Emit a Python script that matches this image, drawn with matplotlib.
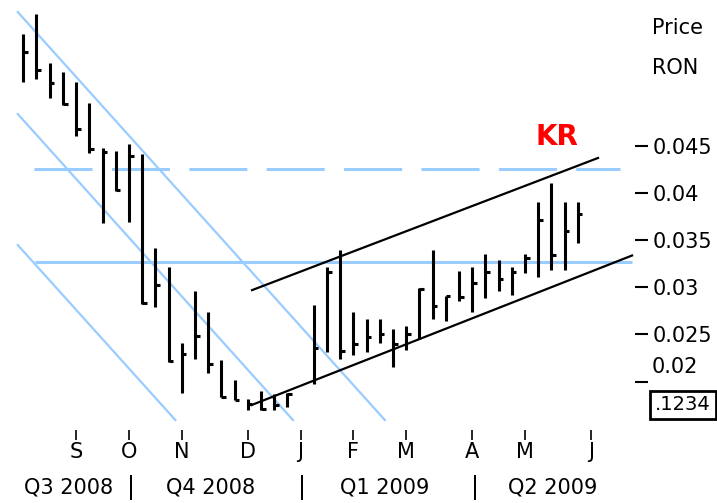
import matplotlib
matplotlib.use("Agg")
import matplotlib.pyplot as plt

# ---- data (weekly HLC bars, RON) ----
week = list(range(0, 21)) + list(range(22, 43))
high = [0.0568, 0.0589, 0.0538, 0.0528, 0.0517, 0.0495, 0.0448, 0.0444, 0.0452, 0.0441,
        0.0342, 0.0321, 0.0241, 0.0296, 0.0274, 0.0223, 0.0202, 0.0182, 0.0190, 0.0187,
        0.0188,
        0.0281, 0.0321, 0.0340, 0.0274, 0.0266, 0.0266, 0.0256, 0.0259, 0.0299, 0.0340,
        0.0291, 0.0317, 0.0321, 0.0335, 0.0329, 0.0321, 0.0335, 0.0390, 0.0411, 0.0390,
        0.0390]
low = [0.0518, 0.0521, 0.0500, 0.0493, 0.0460, 0.0442, 0.0368, 0.0402, 0.0369, 0.0282,
       0.0279, 0.0221, 0.0188, 0.0224, 0.0209, 0.0184, 0.0181, 0.0170, 0.0170, 0.0170,
       0.0173,
       0.0198, 0.0231, 0.0224, 0.0228, 0.0231, 0.0241, 0.0216, 0.0234, 0.0245, 0.0266,
       0.0264, 0.0285, 0.0274, 0.0289, 0.0296, 0.0292, 0.0315, 0.0311, 0.0318, 0.0318,
       0.0347]
close = [0.0549, 0.0530, 0.0516, 0.0494, 0.0468, 0.0447, 0.0443, 0.0403, 0.0439, 0.0283,
         0.0302, 0.0222, 0.0229, 0.0248, 0.0219, 0.0184, 0.0181, 0.0176, 0.0171, 0.0175,
         0.0187,
         0.0236, 0.0316, 0.0233, 0.0240, 0.0247, 0.0251, 0.0240, 0.0251, 0.0298, 0.0280,
         0.0291, 0.0290, 0.0305, 0.0316, 0.0309, 0.0316, 0.0331, 0.0371, 0.0334, 0.0360,
         0.0378]

month_pos = [4, 8, 12, 17, 21, 25, 29, 34, 38, 43]
month_labels = ["S", "O", "N", "D", "J", "F", "M", "A", "M", "J"]
price_ticks = [0.02, 0.025, 0.03, 0.035, 0.04, 0.045]
price_labels = ["", "0.025", "0.03", "0.035", "0.04", "0.045"]
quarter_labels = ["Q3 2008", "Q4 2008", "Q1 2009", "Q2 2009"]

# horizontal support/resistance levels
level_dashed = 0.0425
level_solid = 0.0327
level_dashed_span = [0.81, 45.2]
level_solid_span = [0.89, 46.1]

# channel (black) lines: (x0, y0, x1, y1)
chan_upper = [17.33, 0.0297, 43.54, 0.0437]
chan_lower = [17.30, 0.01753, 46.12, 0.03337]
# descending (light blue) channel lines
desc_lines = [
    [-0.42, 0.05916, 27.39, 0.01594],
    [-0.42, 0.04836, 20.43, 0.01594],
    [-0.42, 0.03448, 11.52, 0.01594],
]

BLUE = "#99ccff"
W, H = 717, 503
fig = plt.figure(figsize=(W / 100, H / 100), dpi=100)
ax = fig.add_axes([0, (H - 430) / H, 635 / W, 430 / H])
ax.set_xlim(-1.765, 46.34)
ax.set_ylim(0.014883, 0.060434)
for s in ax.spines.values():
    s.set_visible(False)

# levels
ax.hlines(level_solid, *level_solid_span, color=BLUE, lw=2.2, zorder=1)
ax.plot(level_dashed_span, [level_dashed] * 2, color=BLUE, lw=2.2,
        linestyle=(0, (19, 6.33)), solid_capstyle="butt", zorder=1)
for x0, y0, x1, y1 in desc_lines:
    ax.plot([x0, x1], [y0, y1], color=BLUE, lw=1.6, zorder=1)
for x0, y0, x1, y1 in (chan_upper, chan_lower):
    ax.plot([x0, x1], [y0, y1], color="black", lw=1.6, zorder=2)

# HLC bars
vl = ax.vlines(week, low, high, color="black", lw=2.2, zorder=3)
vl.set_capstyle("butt")
hl = ax.hlines(close, week, [w + 0.36 for w in week], color="black", lw=2.2, zorder=3)
hl.set_capstyle("butt")

# axes ticks
ax.yaxis.tick_right()
ax.set_yticks(price_ticks)
ax.set_yticklabels(price_labels)
ax.tick_params(axis="y", direction="out", length=9.5, width=1.5, pad=3,
               labelsize=15, colors="black")
ax.set_xticks(month_pos)
ax.set_xticklabels(month_labels)
ax.tick_params(axis="x", direction="out", length=7, width=1.2, pad=2,
               labelsize=15, colors="black")

def fx(x):
    return x / W

def fy(y):
    return 1 - y / H

fig.text(fx(652), fy(367), "0.02", fontsize=15, va="center", ha="left")
fig.text(fx(652), fy(28), "Price", fontsize=15, va="center", ha="left")
fig.text(fx(652), fy(68), "RON", fontsize=15, va="center", ha="left")
fig.text(fx(683), fy(405), ".1234", fontsize=14, va="center", ha="center",
         bbox=dict(boxstyle="square,pad=0.25", fc="white", ec="black", lw=2))
fig.text(fx(557), fy(137), "KR", fontsize=20, fontweight="bold", color="#ff0000",
         va="center", ha="center")

for xc, lab in zip([69, 211, 385, 553], quarter_labels):
    fig.text(fx(xc), fy(487), lab, fontsize=15, va="center", ha="center")
for xs in [131, 302, 475]:
    fig.text(fx(xs), fy(487), "|", fontsize=17, va="center", ha="center")

fig.savefig("out.png", dpi=100)
